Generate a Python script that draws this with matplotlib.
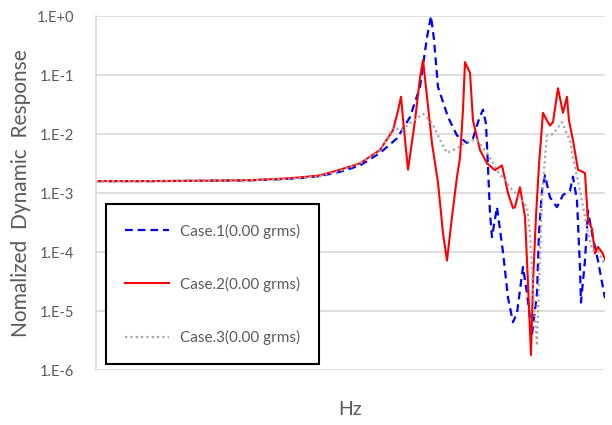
import matplotlib
matplotlib.use("Agg")
import matplotlib.pyplot as plt

# frequency samples (Hz; the chart shows no x ticks)
f1 = [0, 54, 104, 154, 184, 204, 224, 244, 264, 284, 301, 314, 324, 331, 335,
      338, 342, 352, 361, 371, 377, 383, 387, 390, 392, 394, 396, 401, 407, 412,
      417, 421, 427, 431, 436, 441, 443, 446, 449, 454, 461, 467, 474, 477, 481,
      484, 485, 489, 492, 496, 502, 509]
case1 = [1.6e-3, 1.6e-3, 1.62e-3, 1.65e-3, 1.72e-3, 1.8e-3, 1.95e-3, 2.3e-3, 2.95e-3, 4.8e-3,
         8.5e-3, 1.95e-2, 6.3e-2, 4.4e-1, 1.0, 4e-1, 6.3e-2, 1.95e-2, 9.5e-3, 7.1e-3,
         8.5e-3, 1.8e-2, 2.6e-2, 1.5e-2, 2.75e-3, 4.6e-4, 1.8e-4, 5.8e-4, 1e-4, 1.7e-5,
         6.5e-6, 9.3e-6, 5.6e-5, 2e-5, 4e-6, 2e-5, 2.1e-4, 1.1e-3, 2e-3, 8.5e-4,
         5.8e-4, 9.3e-4, 1.1e-3, 1.9e-3, 7.6e-4, 5.6e-5, 1.4e-5, 7.2e-5, 5.1e-4, 2.1e-4,
         7.2e-5, 1.66e-5]

f2 = [0, 54, 104, 154, 184, 204, 224, 244, 264, 284, 297, 302, 305, 308, 312,
      319, 324, 327, 331, 336, 342, 347, 351, 356, 361, 364, 367, 369, 374, 377,
      384, 391, 399, 406, 412, 417, 419, 424, 429, 432, 435, 437, 440, 443, 447,
      451, 454, 457, 462, 467, 471, 473, 477, 482, 489, 492, 496, 499, 502, 506,
      510]
case2 = [1.6e-3, 1.6e-3, 1.62e-3, 1.66e-3, 1.75e-3, 1.85e-3, 2.0e-3, 2.5e-3, 3.2e-3, 5.4e-3,
         1.17e-2, 2.5e-2, 4.3e-2, 1.2e-2, 2.5e-3, 1.7e-2, 9e-2, 1.8e-1, 4.3e-2, 7e-3,
         1.5e-3, 2.1e-4, 7.2e-5, 4e-4, 1.9e-3, 4e-3, 2.6e-2, 1.66e-1, 1.1e-1, 1.7e-2,
         5.4e-3, 3.2e-3, 2.45e-3, 2.95e-3, 1e-3, 5.6e-4, 5.8e-4, 1.26e-3, 4e-4, 3e-5,
         1.8e-6, 3e-5, 4e-4, 3e-3, 2.3e-2, 1.7e-2, 1.4e-2, 1.6e-2, 6e-2, 2.3e-2,
         4.3e-2, 1.7e-2, 7.9e-3, 2.5e-3, 2.2e-3, 3.5e-4, 2.5e-4, 9.5e-5, 1.23e-4, 1.0e-4,
         7e-5]

f3 = [0, 54, 104, 154, 184, 204, 224, 244, 264, 284, 297, 306, 314, 327, 336,
      344, 351, 361, 374, 381, 391, 402, 414, 424, 431, 434, 437, 441, 443, 446,
      449, 451, 457, 462, 466, 469, 474, 477, 484, 491, 496, 502, 509]
case3 = [1.6e-3, 1.6e-3, 1.62e-3, 1.65e-3, 1.72e-3, 1.8e-3, 1.95e-3, 2.4e-3, 3.2e-3, 5.2e-3,
         1.3e-2, 1.17e-2, 1.55e-2, 2.2e-2, 1.55e-2, 8e-3, 4.8e-3, 5.8e-3, 7.9e-3, 7.9e-3,
         4.8e-3, 2.3e-3, 1.26e-3, 8.3e-4, 5.8e-4, 2.1e-4, 2.3e-5, 2.6e-6, 3e-5, 7.6e-4,
         4e-3, 9.5e-3, 1e-2, 1.3e-2, 1.6e-2, 1.2e-2, 7.9e-3, 4e-3, 1.1e-3, 2.6e-4,
         1.1e-4, 1.05e-4, 6e-5]

labels = ["Case.1(0.00 grms)", "Case.2(0.00 grms)", "Case.3(0.00 grms)"]
yticks = [1e-6, 1e-5, 1e-4, 1e-3, 1e-2, 1e-1, 1e0]
ytick_labels = ["1.E-6", "1.E-5", "1.E-4", "1.E-3", "1.E-2", "1.E-1", "1.E+0"]

plt.rcParams["font.family"] = ["Lato", "DejaVu Sans"]
grey = "#595959"

fig = plt.figure(figsize=(6.12, 4.25), dpi=100)
ax = fig.add_axes([0.157, 0.129, 0.8315, 0.833])

ax.plot(f1, case1, color="#0000ff", lw=1.6, ls=(0, (3.5, 2.2)), label=labels[0])
ax.plot(f2, case2, color="#ff0000", lw=1.5, label=labels[1])
ax.plot(f3, case3, color="#a6a6a6", lw=1.6, ls=(0, (1, 1.4)), label=labels[2])

ax.set_yscale("log")
ax.set_ylim(1e-6, 1)
ax.set_xlim(0, 509)
ax.set_yticks(yticks)
ax.set_yticklabels(ytick_labels)
ax.minorticks_off()
ax.set_xticks([])
ax.tick_params(axis="y", length=0, pad=16, labelsize=10.5, labelcolor=grey)

ax.grid(True, axis="y", color="#d9d9d9", lw=1.2)
ax.set_axisbelow(True)
for s in ["top", "right", "bottom"]:
    ax.spines[s].set_visible(False)
ax.spines["left"].set_color("#d9d9d9")
ax.spines["left"].set_linewidth(1.2)

ax.set_ylabel("Nomalized  Dynamic  Response", fontsize=15, color=grey)
ax.yaxis.set_label_coords(-0.127, 0.5)
ax.set_xlabel("Hz", fontsize=14, color=grey, labelpad=22)

leg = ax.legend(loc="lower left", bbox_to_anchor=(0.0196, 0.017), fontsize=11,
                labelspacing=2.5, borderpad=1.25, handlelength=2.9,
                handletextpad=0.7, fancybox=False, framealpha=1, borderaxespad=0)
leg.get_frame().set_edgecolor("black")
leg.get_frame().set_linewidth(1.5)
for t in leg.get_texts():
    t.set_color(grey)

plt.savefig("out.png", dpi=100)
